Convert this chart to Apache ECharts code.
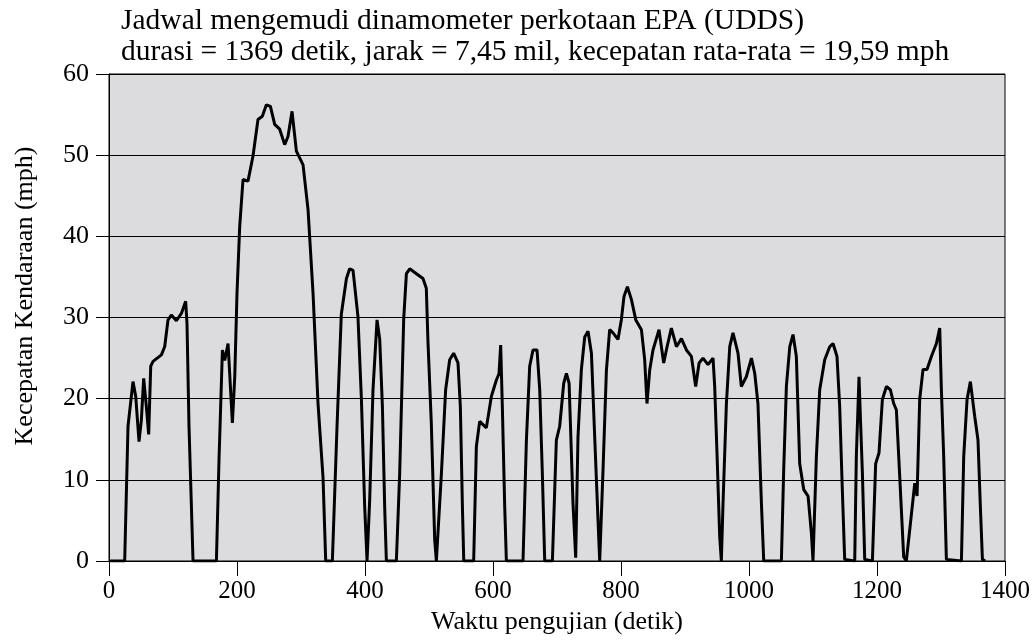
<!DOCTYPE html>
<html><head><meta charset="utf-8">
<script src="https://cdn.jsdelivr.net/npm/echarts@6/dist/echarts.min.js"></script>
<style>html,body{margin:0;padding:0;background:#fff}#c{width:1036px;height:641px}</style>
</head><body><div id="c"></div>
<script>
var titleLines = ["Jadwal mengemudi dinamometer perkotaan EPA (UDDS)", "durasi = 1369 detik, jarak = 7,45 mil, kecepatan rata-rata = 19,59 mph"];
var xAxisName = "Waktu pengujian (detik)";
var yAxisName = "Kecepatan Kendaraan (mph)";
var timeSec = [0,24.5,29.7,37.5,41.7,46.9,50.5,54.2,58.4,62,65.2,68.8,81.9,87,92.2,97.4,105.3,113.1,119.8,121.9,125,131.3,167.8,171.9,177.2,180.8,186,192.8,196.5,200,204.2,209.4,217.2,225,232.8,239.6,245.9,252.2,258.9,266.7,274.5,279.7,286,292.8,303.2,311,318.8,326.6,334.4,338.6,349,356.3,363,371,376,381.3,389,394.4,399.5,403.2,407.3,412.5,418.8,423,427.2,430.8,433.4,449,454.2,460.5,464.7,469.9,480.3,490.6,495.8,498.4,503.6,508.9,511.5,514,519.4,526,532.3,538.5,545.3,549,552.2,554.3,569.8,574,579.2,589.6,597.5,605.3,609.4,612,614.6,618.3,620.9,646.9,652.2,657.3,662.5,668.8,673,677.1,680.8,692.8,699,704.2,710.5,714.7,718.9,725,729.2,732.8,738.1,743.3,748.5,753.8,758.9,764.1,766.7,771.9,777.2,782.3,787.5,795.3,800.5,804.7,810,816.3,823.1,831.9,837,840.6,844.8,850,859.4,866.7,872,878.7,886.6,894.4,902.2,910,916.7,922,928.1,935.9,943.8,946.4,950,954.2,956.8,959.4,964.7,969.9,975,982.8,988,995.8,1003.8,1009,1014,1019.4,1023,1050.6,1054.2,1058.4,1063.7,1068.8,1074,1079.2,1085.5,1092.3,1097.5,1100,1105.3,1110.5,1118.3,1126.1,1131.3,1137.5,1141.7,1145.8,1149.5,1165.2,1167.7,1171.9,1174,1177.2,1180.8,1192.8,1197.9,1203.1,1208.4,1214.7,1220.9,1226.1,1230.3,1235.5,1241.7,1245.8,1252.2,1259,1262.6,1266.7,1271.9,1278.1,1285,1292.8,1298,1300.6,1304.2,1308.4,1331.9,1335.5,1340.7,1345.9,1352.7,1357.8,1361.5,1364.7,1369];
var speedMph = [0,0,16.6,22.1,20.3,14.7,17.3,22.5,19.0,15.6,24.0,24.6,25.4,26.4,29.7,30.3,29.6,30.5,32.0,29.2,16.6,0,0,12.5,26.0,24.7,26.8,17.0,22.7,33.0,41.2,47.0,46.8,49.9,54.4,54.8,56.2,56.0,53.8,53.2,51.3,52.3,55.4,50.5,48.8,43.3,33.0,19.4,10.3,0,0,16.6,30.4,34.8,36.0,35.8,30.1,19.9,6.7,0,7.5,21.1,29.7,27.3,19.0,6.5,0,0,10.8,29.9,35.4,36.0,35.4,34.8,33.6,27.0,17.0,2.6,0,0,10.8,21.1,24.8,25.6,24.4,19.0,6.7,0,0,14.1,17.2,16.4,20.3,22.3,23.1,26.6,19.0,6.7,0,0,14.9,24.0,26.0,26.0,21.1,10.8,0,0,14.9,16.6,21.9,23.1,21.9,7.1,0.4,15.3,23.6,27.6,28.3,25.6,15.3,5.0,0,11.2,23.5,28.5,28.1,27.3,29.7,32.6,33.8,32.2,29.7,28.5,24.8,19.4,23.5,26.0,28.5,24.4,26.4,28.7,26.4,27.4,26.0,25.2,21.5,24.4,25.0,24.2,25.0,21.5,13.3,3.0,0,7.1,19.4,26.4,28.1,25.6,21.5,22.7,25.0,23.1,19.4,7.1,0,0,11.2,21.5,26.4,27.9,25.2,12.0,8.8,8.0,3.4,0,12.9,21.1,24.8,26.4,26.8,25.2,19.0,8.8,0.2,0,12.9,22.7,17.8,10.8,0.2,0,12.0,13.3,19.9,21.5,21.1,19.4,18.6,10.4,0.5,0,4.6,9.6,8.0,19.9,23.6,23.6,25.2,26.8,28.7,21.1,12.9,0.2,0,12.9,19.9,22.1,17.8,14.9,6.7,0.2,0];
var xTicks = [0,200,400,600,800,1000,1200,1400];
var yTicks = [0,10,20,30,40,50,60];

var pts = timeSec.map(function(t,i){return [t, speedMph[i]];});
var serif = "'Liberation Serif','Times New Roman',serif";
var chart = echarts.init(document.getElementById('c'), null, {renderer:'canvas'});
chart.setOption({
  animation:false,
  title:{text:titleLines.join('\n'), left:116, top:1,
    textStyle:{fontFamily:serif, fontSize:29.5, fontWeight:'normal', color:'#000', lineHeight:31}},
  graphic:[{type:'text', x:25, y:296, rotation:Math.PI/2,
    style:{text:yAxisName, fontFamily:serif, fontSize:26, fill:'#000', align:'center', verticalAlign:'middle'}}],
  grid:{left:109, right:31, top:74, bottom:80, show:true, backgroundColor:'#dcdcdf', borderColor:'#000', borderWidth:1},
  xAxis:{type:'value', min:xTicks[0], max:xTicks[xTicks.length-1], interval:200,
    name:xAxisName, nameLocation:'middle', nameGap:47,
    nameTextStyle:{fontFamily:serif, fontSize:26, color:'#000'},
    axisLine:{show:true, lineStyle:{color:'#000', width:1}},
    axisTick:{show:true, length:15, lineStyle:{color:'#000'}},
    axisLabel:{fontFamily:serif, fontSize:25, color:'#000', margin:18, formatter:function(v){return String(v);}},
    splitLine:{show:false}},
  yAxis:{type:'value', min:yTicks[0], max:yTicks[yTicks.length-1], interval:10,
    axisLine:{show:true, lineStyle:{color:'#000', width:1}},
    axisTick:{show:true, length:13, lineStyle:{color:'#000'}},
    axisLabel:{fontFamily:serif, fontSize:26, color:'#000', margin:20, formatter:function(v){return String(v);}},
    splitLine:{show:true, lineStyle:{color:'#000', width:1}}},
  series:[{type:'line', data:pts, showSymbol:false, symbol:'none',
    lineStyle:{color:'#000', width:3}, z:5}]
});
</script></body></html>
